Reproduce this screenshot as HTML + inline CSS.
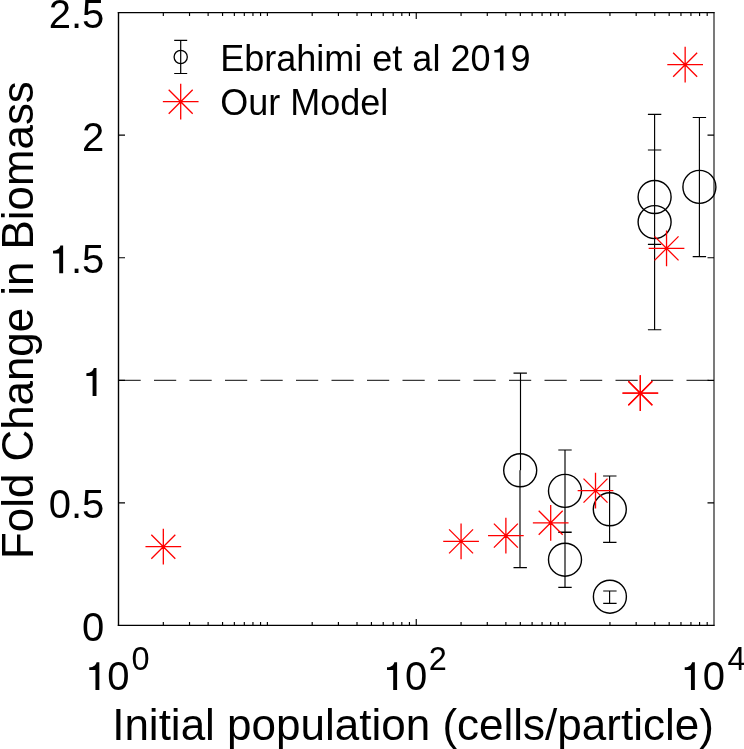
<!DOCTYPE html><html><head><meta charset="utf-8"><style>html,body{margin:0;padding:0;background:#fff;}svg{display:block;}text{font-family:"Liberation Sans",sans-serif;fill:#000;}svg{will-change:transform;}</style></head><body>
<svg width="744" height="749" viewBox="0 0 744 749">
<rect width="744" height="749" fill="#fff"/>
<line x1="118.5" y1="380.31" x2="714.0" y2="380.31" stroke="#3a3a3a" stroke-width="1.3" stroke-dasharray="22.2 13.3"/>
<path d="M117.8 12.6H714.5" fill="none" stroke="#000" stroke-width="1.3"/>
<path d="M714.0 12.0V626.0500000000001" fill="none" stroke="#000" stroke-width="1.05"/>
<path d="M117.8 625.45H714.5" fill="none" stroke="#000" stroke-width="1.25"/>
<path d="M118.5 12.0V626.0500000000001" fill="none" stroke="#000" stroke-width="1.4"/>
<path d="M163.32 625.45v-3.4M163.32 12.6v3.4M189.53 625.45v-3.4M189.53 12.6v3.4M208.13 625.45v-3.4M208.13 12.6v3.4M222.56 625.45v-3.4M222.56 12.6v3.4M234.35 625.45v-3.4M234.35 12.6v3.4M244.31 625.45v-3.4M244.31 12.6v3.4M252.95 625.45v-3.4M252.95 12.6v3.4M260.56 625.45v-3.4M260.56 12.6v3.4M267.38 625.45v-3.4M267.38 12.6v3.4M312.19 625.45v-3.4M312.19 12.6v3.4M338.41 625.45v-3.4M338.41 12.6v3.4M357.01 625.45v-3.4M357.01 12.6v3.4M371.43 625.45v-3.4M371.43 12.6v3.4M383.22 625.45v-3.4M383.22 12.6v3.4M393.19 625.45v-3.4M393.19 12.6v3.4M401.82 625.45v-3.4M401.82 12.6v3.4M409.44 625.45v-3.4M409.44 12.6v3.4M416.25 625.45v-6.5M416.25 12.6v6.5M461.07 625.45v-3.4M461.07 12.6v3.4M487.28 625.45v-3.4M487.28 12.6v3.4M505.88 625.45v-3.4M505.88 12.6v3.4M520.31 625.45v-3.4M520.31 12.6v3.4M532.10 625.45v-3.4M532.10 12.6v3.4M542.06 625.45v-3.4M542.06 12.6v3.4M550.70 625.45v-3.4M550.70 12.6v3.4M558.31 625.45v-3.4M558.31 12.6v3.4M565.12 625.45v-3.4M565.12 12.6v3.4M609.94 625.45v-3.4M609.94 12.6v3.4M636.16 625.45v-3.4M636.16 12.6v3.4M654.76 625.45v-3.4M654.76 12.6v3.4M669.18 625.45v-3.4M669.18 12.6v3.4M680.97 625.45v-3.4M680.97 12.6v3.4M690.94 625.45v-3.4M690.94 12.6v3.4M699.57 625.45v-3.4M699.57 12.6v3.4M707.19 625.45v-3.4M707.19 12.6v3.4M118.5 502.88h6.5M714.0 502.88h-6.5M118.5 380.31h6.5M714.0 380.31h-6.5M118.5 257.74h6.5M714.0 257.74h-6.5M118.5 135.17h6.5M714.0 135.17h-6.5" fill="none" stroke="#000" stroke-width="1.15"/>
<text x="82.05" y="641.05" font-size="40">0</text>
<text x="48.69" y="518.48" font-size="40">0.5</text>
<path d="M96.49 395.91L96.49 368.11L93.73 368.11C93.19 370.61 91.09 373.11 86.39 373.27L86.39 376.01L92.59 376.01L92.59 395.91Z" fill="#000"/>
<text x="70.94" y="273.34" font-size="40">.5</text><path d="M63.13 273.34L63.13 245.54L60.37 245.54C59.83 248.04 57.73 250.54 53.03 250.70L53.03 253.44L59.23 253.44L59.23 273.34Z" fill="#000"/>
<text x="82.05" y="150.77" font-size="40">2</text>
<text x="48.69" y="28.20" font-size="40">2.5</text>
<text x="107.15" y="690.00" font-size="40">0</text><path d="M99.34 690.00L99.34 662.20L96.58 662.20C96.04 664.70 93.94 667.20 89.24 667.36L89.24 670.10L95.44 670.10L95.44 690.00Z" fill="#000"/>
<text x="131.43" y="669.90" font-size="32.5">0</text>
<text x="404.90" y="690.00" font-size="40">0</text><path d="M397.09 690.00L397.09 662.20L394.33 662.20C393.79 664.70 391.69 667.20 386.99 667.36L386.99 670.10L393.19 670.10L393.19 690.00Z" fill="#000"/>
<text x="428.82" y="669.90" font-size="32.5">2</text>
<text x="702.65" y="690.00" font-size="40">0</text><path d="M694.84 690.00L694.84 662.20L692.08 662.20C691.54 664.70 689.44 667.20 684.74 667.36L684.74 670.10L690.94 670.10L690.94 690.00Z" fill="#000"/>
<text x="727.45" y="669.90" font-size="32.5">4</text>
<text x="413" y="740" font-size="44" text-anchor="middle">Initial population (cells/particle)</text>
<text transform="translate(32.5 320.1) rotate(-90)" font-size="43.85" text-anchor="middle">Fold Change in Biomass</text>
<path d="M520.5 373.1V470.3M520.0 470.3V567.6M513.50 373.1h13.4M513.50 567.6h13.4M565.0 450.0V490.9M565.0 490.9V532.1M558.30 450.0h13.4M558.30 532.1h13.4M565.0 532.3V559.7M565.0 559.7V587.4M558.30 532.3h13.4M558.30 587.4h13.4M609.6 476.0V509.3M609.6 509.3V542.3M603.10 476.0h13.4M603.10 542.3h13.4M609.6 591.0V596.7M609.6 596.7V603.3M603.20 591.0h13.4M603.20 603.3h13.4M654.6 150.0V197.0M654.6 197.0V244.4M647.90 150.0h13.4M647.90 244.4h13.4M654.6 114.4V222.1M654.6 222.1V329.7M647.90 114.4h13.4M647.90 329.7h13.4M699.4 117.5V186.9M699.4 186.9V256.6M692.70 117.5h13.4M692.70 256.6h13.4" fill="none" stroke="#000" stroke-width="1.15"/>
<g fill="none" stroke="#000" stroke-width="1.4"><circle cx="520.2" cy="470.3" r="16.5"/><circle cx="565.0" cy="490.9" r="16.5"/><circle cx="565.0" cy="559.7" r="16.5"/><circle cx="609.8" cy="509.3" r="16.5"/><circle cx="609.9" cy="596.7" r="16.5"/><circle cx="654.6" cy="197.0" r="16.5"/><circle cx="654.6" cy="222.1" r="16.5"/><circle cx="699.4" cy="186.9" r="16.5"/></g>
<path d="M145.47 546.70h35.70M163.32 528.85v35.70M151.32 534.70l24.00 24.00M151.32 558.70l24.00 -24.00M443.22 541.40h35.70M461.07 523.55v35.70M449.07 529.40l24.00 24.00M449.07 553.40l24.00 -24.00M488.03 535.60h35.70M505.88 517.75v35.70M493.88 523.60l24.00 24.00M493.88 547.60l24.00 -24.00M532.85 522.80h35.70M550.70 504.95v35.70M538.70 510.80l24.00 24.00M538.70 534.80l24.00 -24.00M577.66 490.60h35.70M595.51 472.75v35.70M583.51 478.60l24.00 24.00M583.51 502.60l24.00 -24.00M622.48 393.20h35.70M640.33 375.35v35.70M628.33 381.20l24.00 24.00M628.33 405.20l24.00 -24.00M648.69 248.40h35.70M666.54 230.55v35.70M654.54 236.40l24.00 24.00M654.54 260.40l24.00 -24.00M667.30 64.70h35.70M685.15 46.85v35.70M673.15 52.70l24.00 24.00M673.15 76.70l24.00 -24.00" fill="none" stroke="#ff0000" stroke-width="1.3"/>
<path d="M622.48 393.20h35.70M640.33 375.35v35.70M628.33 381.20l24.00 24.00M628.33 405.20l24.00 -24.00" fill="none" stroke="#ff0000" stroke-width="1.3"/>
<path d="M180.7 40.4V73.5M174.2 40.4H187.2M174.2 73.5H187.2" fill="none" stroke="#000" stroke-width="1.2"/>
<circle cx="180.7" cy="57" r="6.6" fill="none" stroke="#000" stroke-width="1.3"/>
<path d="M162.85 101.70h35.70M180.70 83.85v35.70M168.70 89.70l24.00 24.00M168.70 113.70l24.00 -24.00" fill="none" stroke="#ff0000" stroke-width="1.3"/>
<text x="220.30" y="70.50" font-size="36">Ebrahimi et al 20</text><text x="510.46" y="70.50" font-size="36">9</text><path d="M503.44 70.50L503.44 45.48L500.95 45.48C500.47 47.73 498.58 49.98 494.35 50.12L494.35 52.59L499.93 52.59L499.93 70.50Z" fill="#000"/>
<text x="220.30" y="115.40" font-size="36">Our Model</text>
</svg></body></html>
